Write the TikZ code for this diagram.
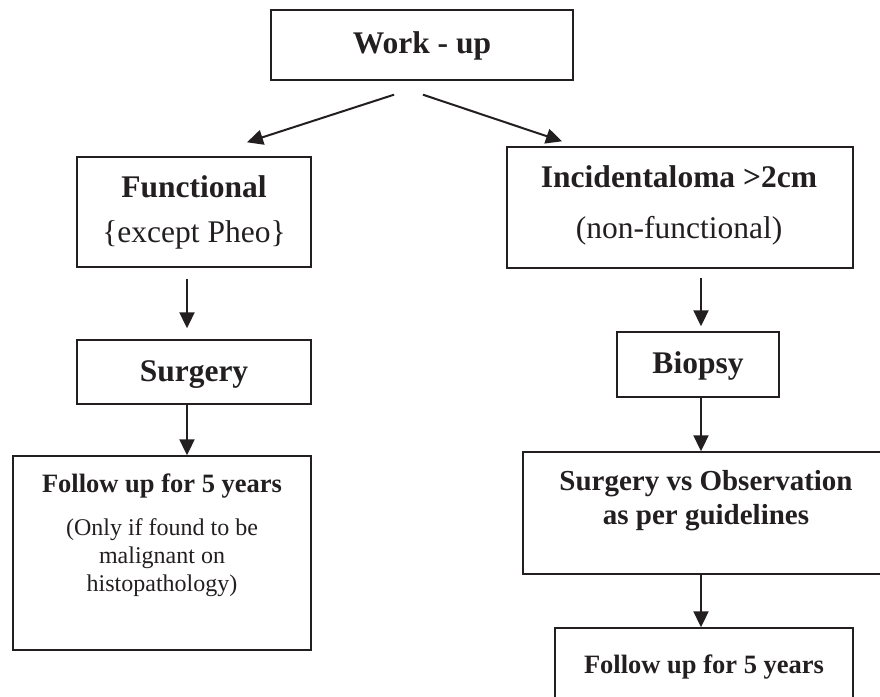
\documentclass[tikz,border=0pt]{standalone}
\usepackage{fontspec}
\setmainfont{Liberation Serif}
\usetikzlibrary{arrows.meta}
\definecolor{ink}{RGB}{35,31,32}

\tikzset{
  box/.style={draw=ink, line width=1.4pt, inner sep=0pt},
  arr/.style={draw=ink, line width=2pt, -{Triangle[length=16pt,width=15pt]}},
  head/.style={text=ink, anchor=base, inner sep=0pt, font=\fontsize{31.5}{36}\selectfont\bfseries},
  plain/.style={text=ink, anchor=base, inner sep=0pt, font=\fontsize{31.5}{36}\selectfont},
  fuhead/.style={text=ink, anchor=base, inner sep=0pt, font=\fontsize{26.5}{30}\selectfont\bfseries},
  note/.style={text=ink, anchor=base, inner sep=0pt, font=\fontsize{24}{24}\selectfont},
}

\begin{document}
\begin{tikzpicture}[x=1pt, y=-1pt]
  \useasboundingbox (0,0) rectangle (880,696);
  \clip (0,0) rectangle (880,696);

  % boxes
  \node[box, minimum width=302pt, minimum height=70pt] (work) at (422,45) {};
  \node[box, minimum width=234pt, minimum height=110pt] (func) at (194,212) {};
  \node[box, minimum width=346pt, minimum height=121pt] (incid) at (680,207.5) {};
  \node[box, minimum width=234pt, minimum height=64pt] (surg) at (194,372) {};
  \node[box, minimum width=162pt, minimum height=65pt] (biop) at (698,364.5) {};
  \node[box, minimum width=298pt, minimum height=194pt] (fol1) at (162,553) {};
  \node[box, minimum width=377pt, minimum height=122pt] (svo) at (711.5,513) {};
  \node[box, minimum width=298pt, minimum height=92pt] (fol2) at (704,674) {};

  % texts
  \node[head] (tWork) at (422,53) {Work - up};
  \node[head] (tFunc) at (194,197) {Functional};
  \node[plain] (tExcept) at (194,242) {\{except Pheo\}};
  \node[head] (tIncid) at (679,187) {Incidentaloma >2cm};
  \node[plain] (tNonf) at (679,238) {(non-functional)};
  \node[head] (tSurg) at (194,381) {Surgery};
  \node[head] (tBiop) at (698,373) {Biopsy};
  \node[fuhead] (tFol1) at (162,492) {Follow up for 5 years};
  \node[note] (tOnly) at (162,535) {(Only if found to be};
  \node[note] (tMalig) at (162,563) {malignant on};
  \node[note] (tHisto) at (162,591) {histopathology)};
  \node[head, font=\fontsize{29}{34}\selectfont\bfseries] (tSvo) at (706,490) {Surgery vs Observation};
  \node[head, font=\fontsize{29}{34}\selectfont\bfseries] (tGuide) at (706,524) {as per guidelines};
  \node[fuhead] (tFol2) at (704,673) {Follow up for 5 years};

  % arrows
  \draw[arr] ([xshift=-28pt,yshift=-14pt]work.south) -- ([xshift=53pt,yshift=14pt]func.north);
  \draw[arr] ([xshift=1pt,yshift=-14pt]work.south) -- ([xshift=-118pt,yshift=5pt]incid.north);
  \draw[arr] ([xshift=-7pt,yshift=-11pt]func.south) -- ([xshift=-7pt,yshift=11pt]surg.north);
  \draw[arr] ([xshift=-7pt]surg.south) -- ([xshift=25pt]fol1.north);
  \draw[arr] ([xshift=21pt,yshift=-9pt]incid.south) -- ([xshift=3pt,yshift=5pt]biop.north);
  \draw[arr] ([xshift=3pt]biop.south) -- ([xshift=-10.5pt]svo.north);
  \draw[arr] ([xshift=-10.5pt]svo.south) -- ([xshift=-3pt]fol2.north);
\end{tikzpicture}
\end{document}
